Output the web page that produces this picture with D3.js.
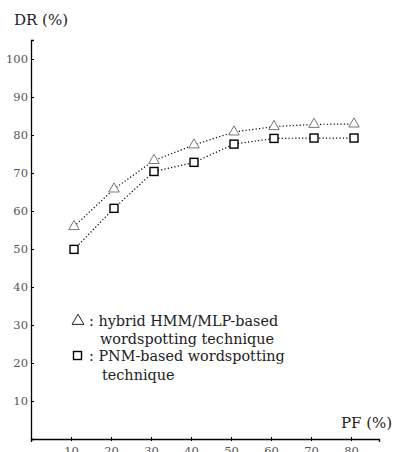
<!DOCTYPE html>
<html>
<head>
<meta charset="utf-8">
<script src="https://cdn.jsdelivr.net/npm/d3@7"></script>
<style>
  body { margin: 0; background: #fff; }
  svg { display: block; font-family: "DejaVu Serif", "Liberation Serif", serif; }
</style>
</head>
<body>
<svg id="chart" width="394" height="452"></svg>
<script>
// PF (%) values and detection rates
const pf = [10, 20, 30, 40, 50, 60, 70, 80];
const hybridDR = [55.9, 65.8, 73.3, 77.4, 80.8, 82.2, 82.8, 82.9];
const pnmDR = [49.9, 60.7, 70.4, 72.8, 77.6, 79.1, 79.2, 79.2];
const xTicks = [10, 20, 30, 40, 50, 60, 70, 80];
const yTicks = [10, 20, 30, 40, 50, 60, 70, 80, 90, 100];

const svg = d3.select("#chart");

const x = d3.scaleLinear().domain([0, 87]).range([31, 379]);
const y = d3.scaleLinear().domain([0, 105]).range([439, 40]);

// axes
const xAxis = svg.append("g")
  .attr("transform", `translate(0,${y(0)})`)
  .call(d3.axisBottom(x).tickValues(xTicks).tickSize(3).tickPadding(5));
const yAxis = svg.append("g")
  .attr("transform", `translate(${x(0)},0)`)
  .call(d3.axisLeft(y).tickValues(yTicks).tickSize(-3).tickPadding(4));

[xAxis, yAxis].forEach(g => {
  g.select(".domain").attr("stroke", "#000").attr("stroke-width", 1.3);
  g.selectAll(".tick line").attr("stroke", "#000");
  g.selectAll("text")
    .attr("font-family", "DejaVu Serif, Liberation Serif, serif")
    .attr("font-size", 11.5)
    .attr("fill", "#555");
});
yAxis.selectAll(".tick text").attr("x", -3);
xAxis.selectAll(".tick line").attr("y1", -2).attr("y2", 2);

svg.append("text")
  .attr("x", 14).attr("y", 25)
  .attr("font-size", 15)
  .attr("fill", "#222")
  .text("DR (%)");
svg.append("text")
  .attr("x", 341).attr("y", 428)
  .attr("font-size", 15)
  .attr("fill", "#222")
  .text("PF (%)");

// series layer (markers sit slightly right of the ticks in the figure)
const plot = svg.append("g").attr("transform", "translate(3,0)");

const line = d3.line().x(d => x(d[0])).y(d => y(d[1]));
const triPath = d3.symbol().type(d3.symbolTriangle).size(48);

const seriesList = [
  { values: hybridDR, kind: "tri" },
  { values: pnmDR, kind: "sq" }
];

seriesList.forEach(s => {
  const pts = pf.map((p, i) => [p, s.values[i]]);
  plot.append("path")
    .datum(pts)
    .attr("d", line)
    .attr("fill", "none")
    .attr("stroke", "#000")
    .attr("stroke-width", 1.2)
    .attr("stroke-dasharray", "1.2,2.2");

  if (s.kind === "tri") {
    plot.selectAll(".tri")
      .data(pts)
      .enter()
      .append("path")
      .attr("class", "tri")
      .attr("transform", d => `translate(${x(d[0])},${y(d[1])})`)
      .attr("d", triPath)
      .attr("fill", "#fff")
      .attr("stroke", "#777")
      .attr("stroke-width", 1);
  } else {
    plot.selectAll(".sq")
      .data(pts)
      .enter()
      .append("rect")
      .attr("class", "sq")
      .attr("x", d => x(d[0]) - 4)
      .attr("y", d => y(d[1]) - 4)
      .attr("width", 8)
      .attr("height", 8)
      .attr("fill", "#fff")
      .attr("stroke", "#000")
      .attr("stroke-width", 1.4);
  }
});

// legend
const legend = svg.append("g");
legend.append("path")
  .attr("transform", "translate(78,321)")
  .attr("d", d3.symbol().type(d3.symbolTriangle).size(60))
  .attr("fill", "#fff")
  .attr("stroke", "#222")
  .attr("stroke-width", 1);
legend.append("rect")
  .attr("x", 73.5).attr("y", 351.5)
  .attr("width", 8).attr("height", 8)
  .attr("fill", "#fff")
  .attr("stroke", "#000")
  .attr("stroke-width", 1.4);

const legendLines = [
  { x: 89, y: 326, t: ": hybrid HMM/MLP-based" },
  { x: 100, y: 344, t: "wordspotting technique" },
  { x: 89, y: 361, t: ":  PNM-based wordspotting" },
  { x: 102, y: 380, t: "technique" }
];
legend.selectAll("text.lg")
  .data(legendLines)
  .enter()
  .append("text")
  .attr("class", "lg")
  .attr("x", d => d.x)
  .attr("y", d => d.y)
  .attr("font-size", 14.4)
  .attr("fill", "#222")
  .text(d => d.t);
</script>
</body>
</html>
